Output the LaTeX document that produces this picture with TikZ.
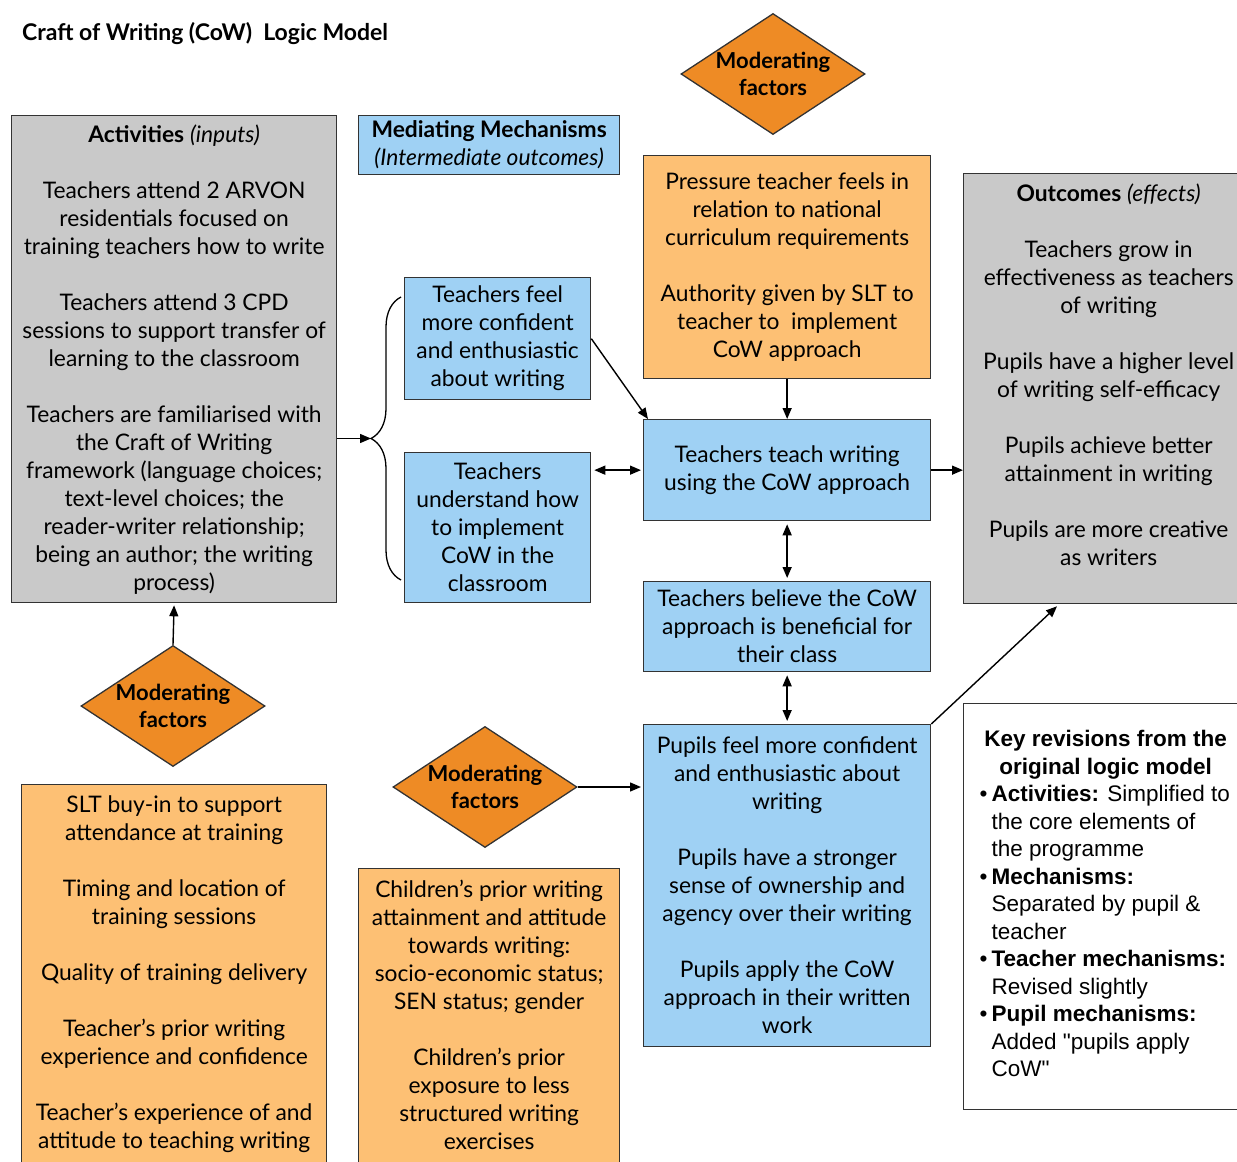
\documentclass[tikz,border=0pt]{standalone}
\usepackage{fontspec}
\setmainfont{Lato}
\newfontfamily\keyfont{Liberation Sans}
\usetikzlibrary{shapes.geometric,decorations.pathreplacing,arrows.meta}

\definecolor{actgray}{HTML}{C9C9C9}
\definecolor{mechblue}{HTML}{9FD1F4}
\definecolor{factorange}{HTML}{FDC074}
\definecolor{diamorange}{HTML}{EE8B25}

\newcommand\modtext{\makebox[0pt]{Moderating}\\\makebox[0pt]{factors}}

\tikzset{
  box/.style={draw=black!80, line width=1.3pt, inner sep=0pt, align=center, anchor=north west},
  actbox/.style={box, fill=actgray},
  mechbox/.style={box, fill=mechblue},
  factbox/.style={box, fill=factorange},
  moddiam/.style={diamond, draw=black!80, line width=1.3pt, fill=diamorange, inner sep=0pt,
    minimum width=184pt, minimum height=121pt, align=center,
    font=\fontsize{22}{27}\selectfont\bfseries},
  arr/.style={-{Triangle[length=11pt,width=9pt]}, line width=1.4pt},
  dblarr/.style={{Triangle[length=11pt,width=9pt]}-{Triangle[length=11pt,width=9pt]}, line width=1.4pt},
}

\begin{document}
\begin{tikzpicture}[x=1pt, y=-1pt, font=\fontsize{22.8}{28}\selectfont]
  \useasboundingbox (0,0) rectangle (1237,1162);

  \node[anchor=west, inner sep=0pt, font=\fontsize{23}{26}\selectfont\bfseries] (title) at (22,34)
    {Craft of Writing (CoW)\ \ Logic Model};

  % inputs and outcomes
  \node[actbox, minimum width=325pt, minimum height=487pt] (activities) at (11,115)
    {\textbf{Activities} \textit{(inputs)}\\[28pt]
     Teachers attend 2 ARVON\\residentials focused on\\training teachers how to write\\[28pt]
     Teachers attend 3 CPD\\sessions to support transfer of\\learning to the classroom\\[28pt]
     Teachers are familiarised with\\the Craft of Writing\\framework (language choices;\\
     text-level choices; the\\reader-writer relationship;\\being an author; the writing\\process)};
  \node[actbox, minimum width=290pt, minimum height=430pt] (outcomes) at (963,173)
    {\textbf{Outcomes} \textit{(effects)}\\[28pt]
     Teachers grow in\\effectiveness as teachers\\of writing\\[28pt]
     Pupils have a higher level\\of writing self-efficacy\\[28pt]
     Pupils achieve better\\attainment in writing\\[28pt]
     Pupils are more creative\\as writers\\~};

  % mechanisms
  \node[mechbox, minimum width=261pt, minimum height=59pt] (mediating) at (358,115)
    {\textbf{Mediating Mechanisms}\\\textit{(Intermediate outcomes)}};
  \node[mechbox, minimum width=186pt, minimum height=122pt] (feel) at (404,277)
    {Teachers feel\\more confident\\and enthusiastic\\about writing};
  \node[mechbox, minimum width=186pt, minimum height=150pt] (understand) at (404,452)
    {Teachers\\understand how\\to implement\\CoW in the\\classroom};
  \node[mechbox, minimum width=287pt, minimum height=101pt] (teach) at (643,419)
    {Teachers teach writing\\using the CoW approach};
  \node[mechbox, minimum width=287pt, minimum height=90pt] (believe) at (643,581)
    {Teachers believe the CoW\\approach is beneficial for\\their class};
  \node[mechbox, minimum width=287pt, minimum height=322pt] (pupils) at (643,724)
    {Pupils feel more confident\\and enthusiastic about\\writing\\[28pt]
     Pupils have a stronger\\sense of ownership and\\agency over their writing\\[28pt]
     Pupils apply the CoW\\approach in their written\\work};

  % moderating factors
  \node[moddiam] (topdiam) at (773,74) {\modtext};
  \node[moddiam] (leftdiam) at (173,706) {\modtext};
  \node[moddiam] (middiam) at (485,787) {\modtext};
  \node[factbox, minimum width=287pt, minimum height=223pt] (topfact) at (643,155)
    {Pressure teacher feels in\\relation to national\\curriculum requirements\\[28pt]
     Authority given by SLT to\\teacher to\ \ implement\\CoW approach};
  \node[factbox, minimum width=305pt, minimum height=402pt] (leftfact) at (21,784)
    {SLT buy-in to support\\attendance at training\\[28pt]
     Timing and location of\\training sessions\\[28pt]
     Quality of training delivery\\[28pt]
     Teacher's prior writing\\experience and confidence\\[28pt]
     Teacher's experience of and\\attitude to teaching writing\\~};
  \node[factbox, minimum width=261pt, minimum height=320pt] (midfact) at (358,868)
    {Children's prior writing\\attainment and attitude\\towards writing:\\socio-economic status;\\SEN status; gender\\[28pt]
     Children's prior\\exposure to less\\structured writing\\exercises\\~};

  % key revisions
  \node[box, fill=white, minimum width=284pt, minimum height=406pt, anchor=north west,
    inner xsep=16pt] (keyrev) at (963,703)
    {\parbox{252pt}{\keyfont\fontsize{22.5}{27.5}\selectfont
     \centering\textbf{Key revisions from the\\original logic model}\par
     \raggedright
     \hangindent=12pt\hangafter=1\textbullet\hspace{4pt}\textbf{Activities:} Simplified to\newline the core elements of\newline the programme\par
     \hangindent=12pt\hangafter=1\textbullet\hspace{4pt}\textbf{Mechanisms:}\newline Separated by pupil \&\newline teacher\par
     \hangindent=12pt\hangafter=1\textbullet\hspace{4pt}\textbf{Teacher mechanisms:}\newline Revised slightly\par
     \hangindent=12pt\hangafter=1\textbullet\hspace{4pt}\textbf{Pupil mechanisms:}\newline Added "pupils apply\newline CoW"\par
     \vspace{6pt}}};

  % brace
  \coordinate (bracetop) at (401,297);
  \coordinate (bracebot) at (401,580);
  \coordinate (bracetip) at (371,438.5);
  \draw[line width=1.3pt, decorate, decoration={brace, amplitude=30pt}] (bracebot) -- (bracetop);

  % connectors
  \draw[arr] (activities.east |- bracetip) -- (bracetip);
  \draw[arr] (feel.east) -- ([xshift=5pt]teach.north west);
  \draw[dblarr, shorten <=3pt, shorten >=2pt] (understand.east |- teach.west) -- (teach.west);
  \draw[arr] (topfact.south) -- (teach.north);
  \draw[arr] (teach.east) -- (teach.east -| outcomes.west);
  \draw[dblarr, shorten <=3pt, shorten >=3pt] (teach.south) -- (believe.north);
  \draw[dblarr, shorten <=3pt, shorten >=3pt] (believe.south) -- (pupils.north);
  \draw[arr] (pupils.north east) -- ([xshift=94pt, yshift=-2pt]outcomes.south west);
  \draw[arr, shorten >=2pt] (middiam.east) -- (middiam.east -| pupils.west);
  \draw[arr, shorten >=2pt] (leftdiam.north) -- (activities.south);
\end{tikzpicture}
\end{document}
